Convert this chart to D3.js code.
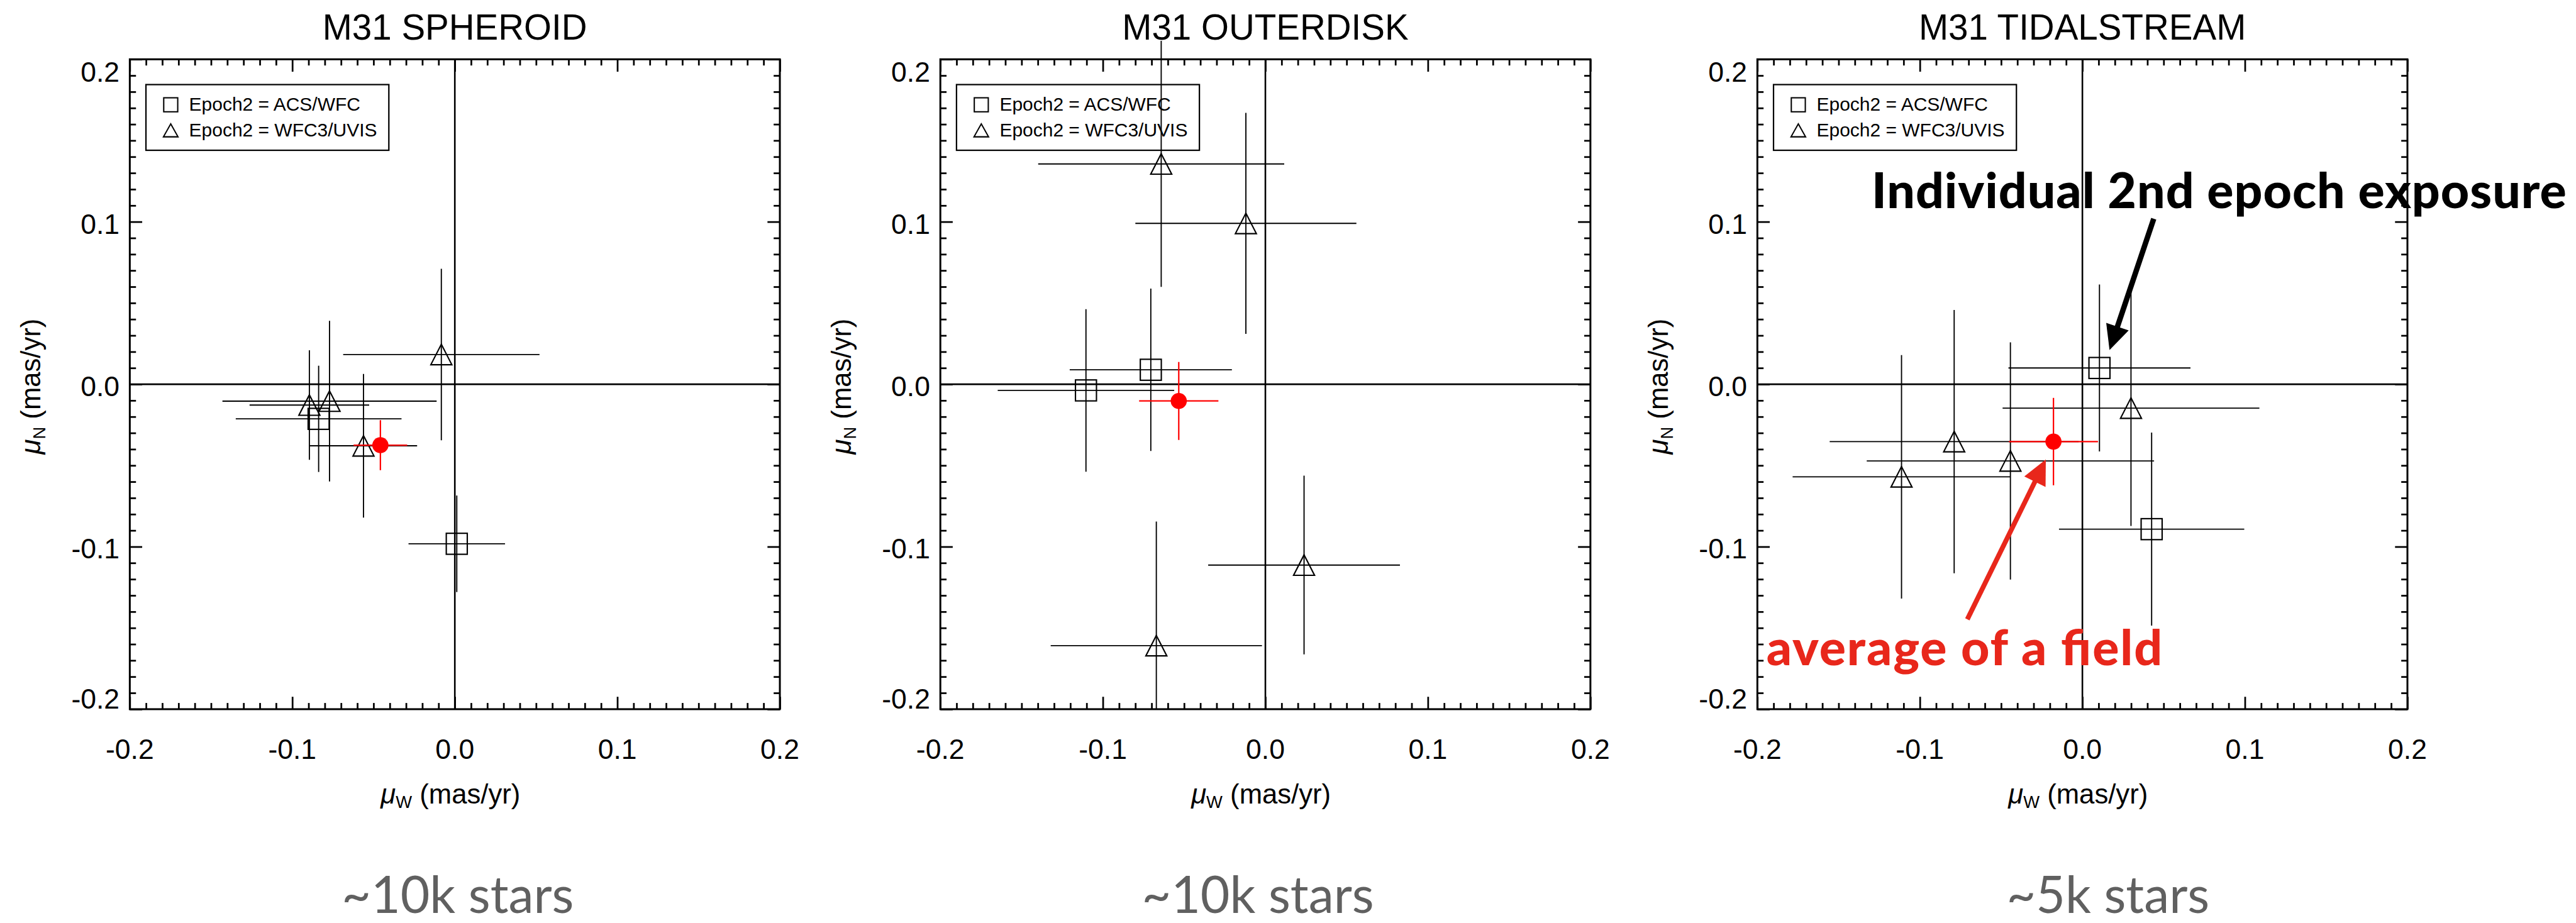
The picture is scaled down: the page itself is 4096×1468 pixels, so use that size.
<!DOCTYPE html>
<html>
<head>
<meta charset="utf-8">
<script src="https://cdn.jsdelivr.net/npm/d3@7"></script>
<style>
  html, body { margin: 0; padding: 0; background: #fff; overflow: hidden; }
  svg { display: block; }
</style>
</head>
<body>
<script>
// ---- chart content -------------------------------------------------------
const panelTitles = ["M31 SPHEROID", "M31 OUTERDISK", "M31 TIDALSTREAM"];
const starCounts  = ["~10k stars", "~10k stars", "~5k stars"];
const tickValues  = [-0.2, -0.1, 0.0, 0.1, 0.2];
const tickLabels  = ["-0.2", "-0.1", "0.0", "0.1", "0.2"];
const legendLabels = ["Epoch2 = ACS/WFC", "Epoch2 = WFC3/UVIS"];

// Each row: [mu_W, mu_N, err_W, err_N]  (mas/yr)
const spheroidACS  = [[-0.0838, -0.0213, 0.0510, 0.0327],
                      [ 0.0012, -0.0982, 0.0297, 0.0297]];
const spheroidUVIS = [[-0.0895, -0.0128, 0.0368, 0.0337],
                      [-0.0771, -0.0104, 0.0659, 0.0494],
                      [-0.0562, -0.0379, 0.0330, 0.0442],
                      [-0.0083,  0.0183, 0.0604, 0.0528]];
const spheroidMean = [-0.0458, -0.0375, 0.0165, 0.0154];

const outerdiskACS  = [[-0.0705,  0.0089, 0.0499, 0.0500],
                       [-0.1104, -0.0038, 0.0543, 0.0500]];
const outerdiskUVIS = [[-0.0641,  0.1356, 0.0757, 0.0757],
                       [-0.0120,  0.0990, 0.0680, 0.0680],
                       [ 0.0238, -0.1113, 0.0590, 0.0550],
                       [-0.0671, -0.1609, 0.0650, 0.0764]];
const outerdiskMean = [-0.0533, -0.0103, 0.0244, 0.0240];

const streamACS  = [[ 0.0105,  0.0100, 0.0560, 0.0514],
                    [ 0.0426, -0.0892, 0.0570, 0.0594]];
const streamUVIS = [[ 0.0299, -0.0147, 0.0790, 0.0725],
                    [-0.0443, -0.0472, 0.0884, 0.0730],
                    [-0.0789, -0.0353, 0.0766, 0.0810],
                    [-0.1113, -0.0570, 0.0670, 0.0749]];
const streamMean = [-0.0178, -0.0353, 0.0274, 0.0269];

// Callouts on the tidal-stream panel, in data units of that panel
const calloutText   = ["Individual 2nd epoch exposure", "average of a field"];
const calloutAnchor = [[-0.1297, 0.1085], [-0.1944, -0.1728]];
const calloutArrow  = [[[0.0439, 0.1019], [0.0167, 0.0210]],
                       [[-0.0708, -0.1447], [-0.0225, -0.0463]]];

// ---- layout (drawn in a 4783 x 1714 coordinate space) --------------------
const VW = 4783, VH = 1714;
const PLOT = 1207, TOP = 110;
const panelLeft = [241, 1746, 3263];
const starsShift = [5.5, -14, 47.5];
const SANS = "'Liberation Sans', Arial, Helvetica, sans-serif";
const CALLOUT_FONT = "Lato, 'Open Sans', sans-serif";
const RED = "#ff0000";
const CALLOUT_RED = "#e8271b";

const svg = d3.select("body").append("svg")
  .attr("width", 4096).attr("height", 1468)
  .attr("viewBox", `0 0 ${VW} ${VH}`);

svg.append("rect").attr("width", VW).attr("height", VH).attr("fill", "#fff");

const panels = [
  { acs: spheroidACS,  uvis: spheroidUVIS,  mean: spheroidMean },
  { acs: outerdiskACS, uvis: outerdiskUVIS, mean: outerdiskMean },
  { acs: streamACS,    uvis: streamUVIS,    mean: streamMean }
];

const minorTicks = d3.range(-20, 21).map(i => i / 100)
  .filter(v => Math.abs(v * 10 - Math.round(v * 10)) > 1e-6);

function trianglePath(cx, cy, hw, hh) {
  return `M${cx},${cy - hh}L${cx + hw},${cy + hh}L${cx - hw},${cy + hh}Z`;
}

const scales = [];

panels.forEach((p, i) => {
  const left = panelLeft[i];
  const x = d3.scaleLinear().domain([-0.2, 0.2]).range([left, left + PLOT]);
  const y = d3.scaleLinear().domain([-0.2, 0.2]).range([TOP + PLOT, TOP]);
  scales.push({ x, y });
  const g = svg.append("g");

  // zero lines
  g.append("line")
    .attr("x1", x(-0.2)).attr("x2", x(0.2)).attr("y1", y(0)).attr("y2", y(0))
    .attr("stroke", "#000").attr("stroke-width", 3);
  g.append("line")
    .attr("x1", x(0)).attr("x2", x(0)).attr("y1", y(-0.2)).attr("y2", y(0.2))
    .attr("stroke", "#000").attr("stroke-width", 3);

  // axes: ticks on all four sides, pointing inward
  const axisDefs = [
    [d3.axisBottom(x), `translate(0,${y(-0.2)})`],
    [d3.axisTop(x),    `translate(0,${y(0.2)})`],
    [d3.axisLeft(y),   `translate(${x(-0.2)},0)`],
    [d3.axisRight(y),  `translate(${x(0.2)},0)`]
  ];
  axisDefs.forEach(([axis, tr]) => {
    const major = g.append("g").attr("transform", tr)
      .call(axis.tickValues(tickValues).tickSize(-23).tickFormat(""));
    const minor = g.append("g").attr("transform", tr)
      .call(axis.tickValues(minorTicks).tickSize(-11.5).tickFormat(""));
    [major, minor].forEach(a => {
      a.select(".domain").remove();
      a.selectAll("line").attr("stroke", "#000").attr("stroke-width", 3.2);
    });
  });

  // frame
  g.append("rect")
    .attr("x", x(-0.2)).attr("y", y(0.2))
    .attr("width", x(0.2) - x(-0.2)).attr("height", y(-0.2) - y(0.2))
    .attr("fill", "none").attr("stroke", "#000").attr("stroke-width", 3.5);

  // tick labels
  g.selectAll(".xlab").data(tickValues).join("text")
    .attr("x", d => x(d)).attr("y", y(-0.2) + 92)
    .attr("text-anchor", "middle")
    .attr("font-family", SANS).attr("font-size", 52)
    .text((d, k) => tickLabels[k]);
  g.selectAll(".ylab").data(tickValues).join("text")
    .attr("x", x(-0.2) - 19)
    .attr("y", d => d === 0.2 ? y(d) + 42 : (d === -0.2 ? y(d) - 1 : y(d) + 22))
    .attr("text-anchor", "end")
    .attr("font-family", SANS).attr("font-size", 52)
    .text((d, k) => tickLabels[k]);

  // axis titles
  const xt = g.append("text")
    .attr("x", (x(-0.2) + x(0.2)) / 2 - 8).attr("y", 1492)
    .attr("text-anchor", "middle").attr("font-family", SANS).attr("font-size", 51);
  xt.append("tspan").attr("font-style", "italic").text("\u03bc");
  xt.append("tspan").attr("font-size", 32).attr("dy", 9).text("W");
  xt.append("tspan").attr("dy", -9).text(" (mas/yr)");

  const yMid = (y(0.2) + y(-0.2)) / 2 + 4;
  const yx = left - 166;
  const yt = g.append("text")
    .attr("transform", `translate(${yx},${yMid}) rotate(-90)`)
    .attr("text-anchor", "middle").attr("font-family", SANS).attr("font-size", 51);
  yt.append("tspan").attr("font-style", "italic").text("\u03bc");
  yt.append("tspan").attr("font-size", 32).attr("dy", 9).text("N");
  yt.append("tspan").attr("dy", -9).text(" (mas/yr)");

  // panel title
  g.append("text")
    .attr("x", (x(-0.2) + x(0.2)) / 2).attr("y", 74)
    .attr("text-anchor", "middle").attr("font-family", SANS).attr("font-size", 66)
    .text(panelTitles[i]);

  // legend
  const lx = left + 30, ly = TOP + 47;
  g.append("rect").attr("x", lx).attr("y", ly).attr("width", 451).attr("height", 122)
    .attr("fill", "none").attr("stroke", "#000").attr("stroke-width", 2.6);
  g.append("rect").attr("x", left + 76 - 13).attr("y", TOP + 84.5 - 13)
    .attr("width", 26).attr("height", 26)
    .attr("fill", "none").attr("stroke", "#000").attr("stroke-width", 2.4);
  g.append("path").attr("d", trianglePath(left + 76, TOP + 132, 13.5, 12))
    .attr("fill", "none").attr("stroke", "#000").attr("stroke-width", 2.4);
  legendLabels.forEach((t, k) => {
    g.append("text").attr("x", left + 110).attr("y", TOP + 95 + k * 48)
      .attr("font-family", SANS).attr("font-size", 35).text(t);
  });

  // individual exposures: error bars then hollow markers
  const rows = p.acs.map(d => ({ d, kind: "acs" }))
    .concat(p.uvis.map(d => ({ d, kind: "uvis" })));
  const bars = g.append("g").attr("stroke", "#000").attr("stroke-width", 2.2);
  rows.forEach(({ d }) => {
    bars.append("line").attr("x1", x(d[0] - d[2])).attr("x2", x(d[0] + d[2]))
      .attr("y1", y(d[1])).attr("y2", y(d[1]));
    bars.append("line").attr("x1", x(d[0])).attr("x2", x(d[0]))
      .attr("y1", y(Math.max(d[1] - d[3], -0.2))).attr("y2", y(d[1] + d[3]));
  });
  rows.forEach(({ d, kind }) => {
    if (kind === "acs") {
      g.append("rect").attr("x", x(d[0]) - 19.5).attr("y", y(d[1]) - 19.5)
        .attr("width", 39).attr("height", 39)
        .attr("fill", "none").attr("stroke", "#000").attr("stroke-width", 2.5);
    } else {
      g.append("path").attr("d", trianglePath(x(d[0]), y(d[1]), 19.5, 19))
        .attr("fill", "none").attr("stroke", "#000").attr("stroke-width", 2.5);
    }
  });

  // field average
  const m = p.mean;
  const mg = g.append("g");
  mg.append("line").attr("x1", x(m[0] - m[2])).attr("x2", x(m[0] + m[2]))
    .attr("y1", y(m[1])).attr("y2", y(m[1]))
    .attr("stroke", RED).attr("stroke-width", 2.6);
  mg.append("line").attr("x1", x(m[0])).attr("x2", x(m[0]))
    .attr("y1", y(m[1] - m[3])).attr("y2", y(m[1] + m[3]))
    .attr("stroke", RED).attr("stroke-width", 2.6);
  mg.append("circle").attr("cx", x(m[0])).attr("cy", y(m[1])).attr("r", 15)
    .attr("fill", RED);

  // star count caption
  svg.append("text")
    .attr("x", (x(-0.2) + x(0.2)) / 2 + starsShift[i]).attr("y", 1696)
    .attr("text-anchor", "middle")
    .attr("font-family", CALLOUT_FONT).attr("font-weight", 400)
    .attr("font-size", 94).attr("fill", "#606060")
    .text(starCounts[i]);
});

// ---- callouts on the tidal-stream panel ----------------------------------
const cs = scales[2];
const calloutColor = ["#000", CALLOUT_RED];
const calloutWidth = [1290, 735];
const shaftWidth = [10, 9];

function drawArrow(tail, tip, color, width) {
  const x0 = cs.x(tail[0]), y0 = cs.y(tail[1]);
  const x1 = cs.x(tip[0]),  y1 = cs.y(tip[1]);
  const len = Math.hypot(x1 - x0, y1 - y0);
  const ux = (x1 - x0) / len, uy = (y1 - y0) / len;
  const headLen = 46, headHalf = 22;
  const bx = x1 - ux * headLen, by = y1 - uy * headLen;
  svg.append("line")
    .attr("x1", x0).attr("y1", y0).attr("x2", bx + ux * 2).attr("y2", by + uy * 2)
    .attr("stroke", color).attr("stroke-width", width);
  svg.append("path")
    .attr("d", `M${x1},${y1}L${bx - uy * headHalf},${by + ux * headHalf}` +
               `L${bx + uy * headHalf},${by - ux * headHalf}Z`)
    .attr("fill", color);
}

calloutText.forEach((t, k) => {
  svg.append("text")
    .attr("x", cs.x(calloutAnchor[k][0])).attr("y", cs.y(calloutAnchor[k][1]))
    .attr("font-family", CALLOUT_FONT).attr("font-weight", 900)
    .attr("font-size", 92).attr("fill", calloutColor[k])
    .attr("textLength", calloutWidth[k]).attr("lengthAdjust", "spacing")
    .text(t);
  drawArrow(calloutArrow[k][0], calloutArrow[k][1], calloutColor[k], shaftWidth[k]);
});
</script>
</body>
</html>
